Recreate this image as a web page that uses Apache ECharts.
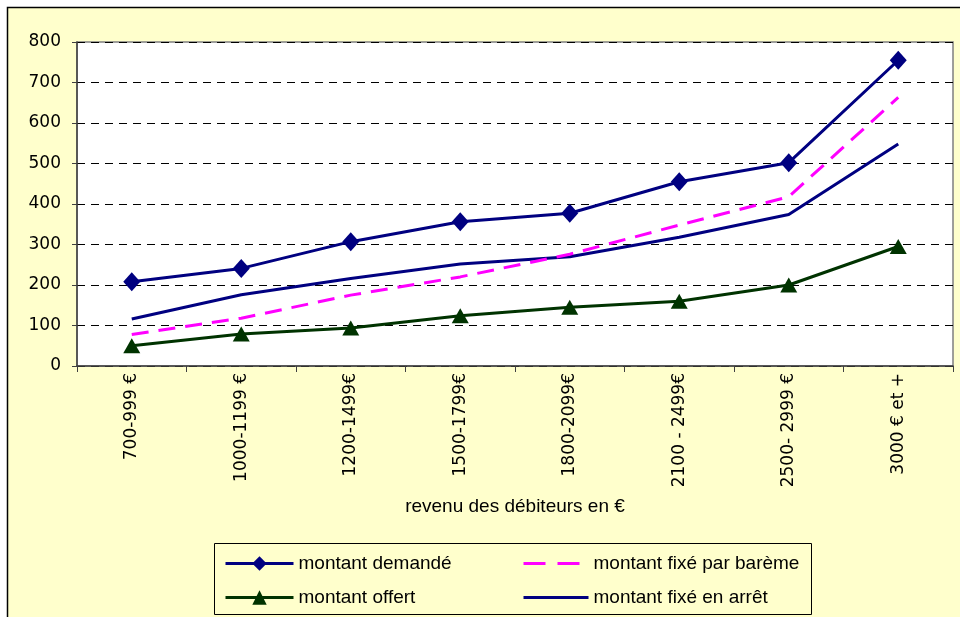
<!DOCTYPE html>
<html>
<head>
<meta charset="utf-8">
<script src="https://cdn.jsdelivr.net/npm/echarts@6/dist/echarts.min.js"></script>
<style>html,body{margin:0;padding:0;background:#fff;}#c{width:960px;height:617px;}</style>
</head>
<body>
<div id="c"></div>
<script>
const categories = ['700-999 €', '1000-1199 €', '1200-1499€', '1500-1799€', '1800-2099€', '2100 - 2499€', '2500- 2999 €', '3000 € et +'];
const montantDemande = [208, 241, 307, 356, 377, 455, 502, 755];
const montantFixeBareme = [78, 118, 175, 220, 276, 348, 418, 663];
const montantOffert = [50, 79, 94, 124, 145, 160, 200, 295];
const montantFixeArret = [116, 176, 216, 252, 270, 318, 374, 548];
const yTicks = { min: 0, max: 800, interval: 100 };

const chart = echarts.init(document.getElementById('c'));
const legendFont = { fontFamily: 'Liberation Sans', fontSize: 19, color: '#000' };
function lg(name, left, top, w, extra) {
  return Object.assign({
    data: [name], left: left, top: top, orient: 'horizontal',
    itemWidth: w, itemHeight: 18, padding: 0, selectedMode: false,
    textStyle: legendFont, lineStyle: { width: 3 }
  }, extra || {});
}
chart.setOption({
  backgroundColor: '#ffffff',
  animation: false,
  graphic: [
    { type: 'rect', z: -10, shape: { x: 7.5, y: 7.5, width: 960, height: 620 },
      style: { fill: '#FFFFCC', stroke: '#000', lineWidth: 1.5 } },
    { type: 'rect', z: 1, shape: { x: 214.5, y: 543.5, width: 597, height: 71 },
      style: { fill: 'none', stroke: '#000', lineWidth: 1 } }
  ],
  legend: [
    lg('montant demandé', 224, 554, 68),
    lg('montant fixé par barème', 522, 554, 65, { lineStyle: { type: [22, 12], width: 3 }, itemStyle: { opacity: 0 } }),
    lg('montant offert', 224, 588, 68),
    lg('montant fixé en arrêt', 522, 588, 65, { itemStyle: { opacity: 0 } })
  ],
  grid: { left: 77, top: 42, right: 7, bottom: 251, show: true, backgroundColor: '#fff', borderColor: '#808080', borderWidth: 1.5 },
  xAxis: {
    type: 'category', data: categories, boundaryGap: true,
    axisLine: { lineStyle: { color: '#404040', width: 1.5 } },
    axisTick: { show: true, length: 6, lineStyle: { color: '#404040' } },
    axisLabel: { rotate: 90, margin: 7, fontFamily: 'DejaVu Sans', fontSize: 17, color: '#000' },
    name: 'revenu des débiteurs en €', nameLocation: 'middle', nameGap: 131,
    nameTextStyle: { fontFamily: 'Liberation Sans', fontSize: 19, color: '#000' }
  },
  yAxis: {
    type: 'value', min: yTicks.min, max: yTicks.max, interval: yTicks.interval,
    axisLine: { show: true, lineStyle: { color: '#404040', width: 1.5 } },
    axisTick: { show: true, length: 5, lineStyle: { color: '#404040' } },
    axisLabel: { margin: 16, fontFamily: 'DejaVu Sans', fontSize: 17, color: '#000' },
    splitLine: { show: true, lineStyle: { color: '#000', type: [8, 6], width: 1 } }
  },
  series: [
    { name: 'montant demandé', type: 'line', data: montantDemande, symbol: 'diamond', symbolSize: [17, 19],
      lineStyle: { color: '#000080', width: 3 }, itemStyle: { color: '#000080' }, z: 5 },
    { name: 'montant fixé par barème', type: 'line', data: montantFixeBareme, symbol: 'none',
      lineStyle: { color: '#FF00FF', width: 3, type: [17, 10] }, itemStyle: { color: '#FF00FF' }, z: 3 },
    { name: 'montant offert', type: 'line', data: montantOffert, symbol: 'triangle', symbolSize: [17, 15],
      lineStyle: { color: '#003300', width: 3 }, itemStyle: { color: '#003300' }, z: 4 },
    { name: 'montant fixé en arrêt', type: 'line', data: montantFixeArret, symbol: 'none',
      lineStyle: { color: '#000080', width: 3 }, itemStyle: { color: '#000080' }, z: 2 }
  ]
});
</script>
</body>
</html>
